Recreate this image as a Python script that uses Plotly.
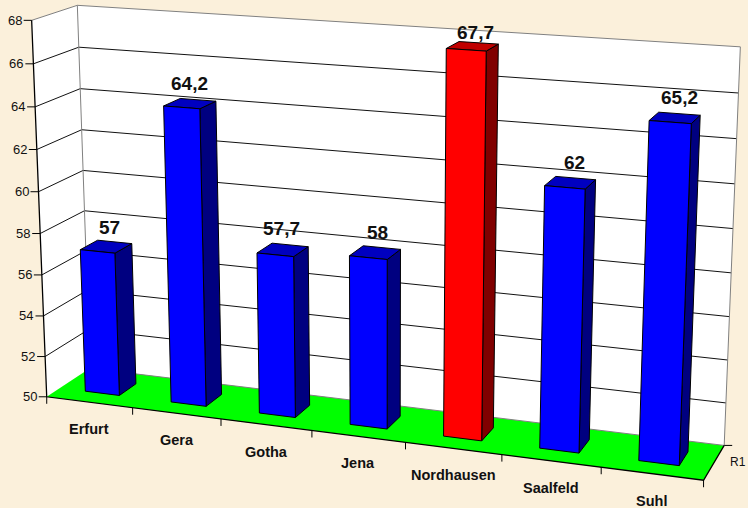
import numpy as np
import plotly.graph_objects as go

# ---- data ----
categories = ["Erfurt", "Gera", "Gotha", "Jena", "Nordhausen", "Saalfeld", "Suhl"]
values = [57, 64.2, 57.7, 58, 67.7, 62, 65.2]
value_labels = ["57", "64,2", "57,7", "58", "67,7", "62", "65,2"]
value_ticks = [50, 52, 54, 56, 58, 60, 62, 64, 66, 68]
series_name = "R1"
highlight = "Nordhausen"

# ---- 3D view: category axis u, depth v, value z -> pixels ----
CAMERA = np.array([
    [75.1507801, 41.7669334, -0.8156442, 82.5478067],
    [4.7004886, -12.6676043, -18.7382541, 1291.6058209],
    [-0.0124034, 0.0346552, -0.0021219, 1.0],
])
Z0, Z1 = value_ticks[0], value_ticks[-1]
N = len(categories)
BAR_U = (0.3, 0.7)
BAR_V = (0.3, 0.7)

# label placement in pixels, per bar
LABEL_DX = [3, 0, -1, 2, 3, 4, 5]
LABEL_DY = [19, 20, 21, 20, 14, 20, 20]

PAPER = "#FBF0DB"
FONT = "Liberation Sans"


def proj(u, v, z):
    h = CAMERA @ np.array([u, v, z, 1.0])
    return h[0] / h[2], h[1] / h[2]


fig = go.Figure()


def poly(points, fill=None, line="black", width=1.0, close=True):
    pts = [proj(*p) for p in points]
    if close:
        pts.append(pts[0])
    fig.add_trace(go.Scatter(
        x=[p[0] for p in pts], y=[p[1] for p in pts],
        mode="lines" if line else "none",
        fill="toself" if fill else None,
        fillcolor=fill,
        line=dict(color=line or "rgba(0,0,0,0)", width=width),
        hoverinfo="skip", showlegend=False,
    ))


def pixel_line(x0, y0, x1, y1, color="black", width=1.0):
    fig.add_trace(go.Scatter(x=[x0, x1], y=[y0, y1], mode="lines",
                             line=dict(color=color, width=width),
                             hoverinfo="skip", showlegend=False))


# walls and floor
poly([(0, 0, Z0), (0, 1, Z0), (0, 1, Z1), (0, 0, Z1)], fill="white", line=None)
poly([(0, 1, Z0), (N, 1, Z0), (N, 1, Z1), (0, 1, Z1)], fill="white", line=None)
poly([(0, 0, Z0), (N, 0, Z0), (N, 1, Z0), (0, 1, Z0)], fill="#00FF00", line=None)

# gridlines
for z in value_ticks[1:-1]:
    poly([(0, 0, z), (0, 1, z), (N, 1, z)], close=False, width=1.0, line="#111111")

# wall frame
GREY = "#808080"
poly([(0, 0, Z1), (0, 1, Z1), (N, 1, Z1), (N, 1, Z0), (0, 1, Z0)], close=False, line=GREY, width=1.0)
poly([(0, 1, Z1), (0, 1, Z0)], close=False, line=GREY, width=1.0)

# axis lines
poly([(0, 0, Z1), (0, 0, Z0), (N, 0, Z0), (N, 1, Z0)], close=False, line="black", width=1.3)

# bars
for name, val in zip(categories, values):
    i = categories.index(name)
    u0, u1 = i + BAR_U[0], i + BAR_U[1]
    v0, v1 = BAR_V
    hot = name == highlight
    front, side, top = ("#FF0000", "#800000", "#C00000") if hot else ("#0000FF", "#000080", "#0000C0")
    poly([(u1, v0, Z0), (u1, v1, Z0), (u1, v1, val), (u1, v0, val)], fill=side, width=1.0)
    poly([(u0, v0, val), (u1, v0, val), (u1, v1, val), (u0, v1, val)], fill=top, width=1.0)
    poly([(u0, v0, Z0), (u1, v0, Z0), (u1, v0, val), (u0, v0, val)], fill=front, width=1.0)

# ticks and labels
annotations = []


def label(x, y, text, size, bold=False, xanchor="center", xshift=0, yshift=0):
    annotations.append(dict(
        x=x, y=y, xref="x", yref="y", text=f"<b>{text}</b>" if bold else text,
        showarrow=False, xanchor=xanchor, yanchor="middle", xshift=xshift, yshift=yshift,
        font=dict(family=FONT, size=size, color="#111111"),
    ))


for z in value_ticks:
    x, y = proj(0, 0, z)
    pixel_line(x - 8, y, x, y)
    label(x, y, str(z), 13, xanchor="right", xshift=-8)

for i in range(N + 1):
    x, y = proj(i, 0, Z0)
    pixel_line(x, y, x, y + 7)

for i, name in enumerate(categories):
    x, y = proj(i + 0.5, 0, Z0)
    label(x, y, name, 14.5, bold=True, yshift=-27)

for i, (val, txt) in enumerate(zip(values, value_labels)):
    x, y = proj(i + 0.5, 0.5, val)
    label(x, y, txt, 19, bold=True, xshift=LABEL_DX[i], yshift=LABEL_DY[i])

x, y = proj(N, 1, Z0)
pixel_line(x, y, x + 8, y)
x, y = proj(N, 0.5, Z0)
label(x, y, series_name, 12, xanchor="left", xshift=14)

fig.update_layout(
    width=748, height=508, autosize=False,
    margin=dict(l=0, r=0, t=0, b=0, pad=0),
    paper_bgcolor=PAPER, plot_bgcolor=PAPER,
    xaxis=dict(range=[0, 748], visible=False, fixedrange=True),
    yaxis=dict(range=[508, 0], visible=False, fixedrange=True),
    annotations=annotations,
    showlegend=False,
)
fig.write_html("out.html", config=dict(displayModeBar=False),
               post_script="document.body.style.margin='0';document.body.style.overflow='hidden';")
